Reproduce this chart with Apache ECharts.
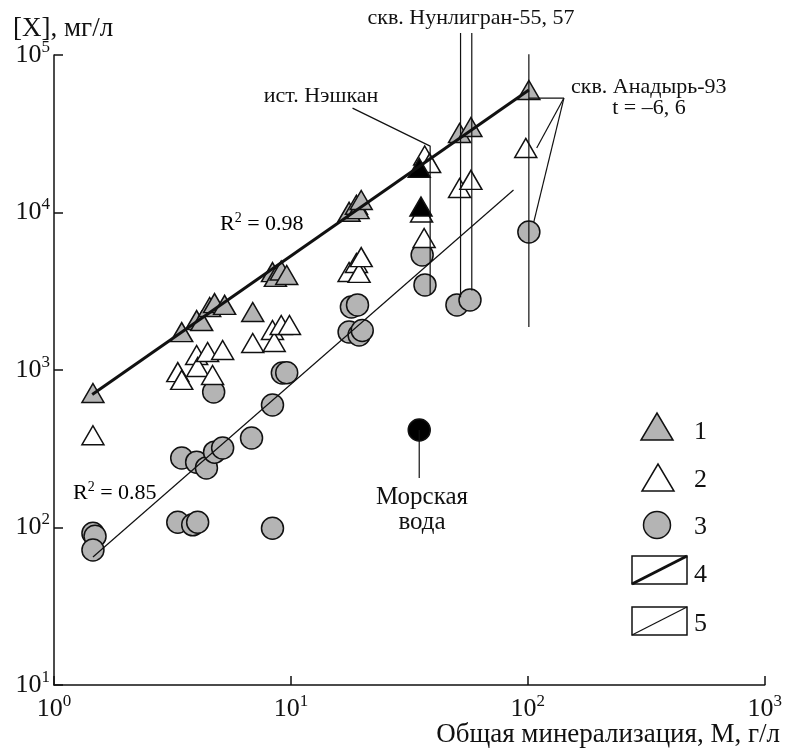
<!DOCTYPE html>
<html>
<head>
    <meta charset="utf-8">
    <title>ECharts</title>
    <script src="https://cdn.jsdelivr.net/npm/echarts@6/dist/echarts.min.js"></script>
</head>
<body style="margin:0;background:#fff">
    <div id="main" style="width:785px;height:748px;"></div>
    <script type="text/javascript">
        var myChart = echarts.init(document.getElementById('main'));

// [M, X] pairs
var grayTriangles = [
    [1.46, 714], [3.46, 1740], [4.0, 2075], [4.2, 2045], [4.54, 2510],
    [4.76, 2660], [5.25, 2590], [6.9, 2335], [8.36, 4185], [8.6, 3900],
    [9.1, 4280], [9.6, 4010], [17.6, 10100], [18.9, 11200], [19.2, 10500],
    [19.8, 12000], [51.5, 32000], [57.5, 34900], [101, 60000]
];
var hollowTriangles = [
    [1.46, 385], [3.33, 970], [3.46, 865], [4.0, 1245], [4.04, 1045],
    [4.45, 1300], [4.67, 930], [5.15, 1340], [6.9, 1484], [8.36, 1795],
    [8.5, 1505], [9.1, 1930], [9.86, 1930], [17.6, 4190], [18.9, 4775],
    [19.4, 4140], [19.8, 5210], [35.6, 10000], [36.5, 6890], [36.7, 23000],
    [38.5, 20600], [51.5, 14300], [57.5, 16100], [98, 25700]
];
var blackTriangles = [[34.8, 19200], [35.4, 10900]];
var circles = [
    [1.46, 92], [1.49, 88], [1.46, 72], [3.33, 108], [3.85, 104], [4.04, 108],
    [3.46, 276], [4.0, 260], [4.4, 239], [4.76, 301], [5.15, 320], [6.82, 370],
    [4.72, 725], [8.36, 600], [8.36, 99], [9.2, 957], [9.6, 960],
    [17.6, 1742], [19.4, 1668], [20, 1780], [18, 2513], [19.1, 2590],
    [35.8, 5370], [36.8, 3470], [50.2, 2590], [57, 2780], [101, 7520]
];
var seaWater = [[34.8, 416]];
var fitStrong = [[1.45, 700], [101, 60000]];   // 4, R2 = 0.98
var fitWeak = [[1.46, 65], [87, 13900]];       // 5, R2 = 0.85
var leaders = [
    [[52, 138000], [52, 2900]],
    [[58, 138000], [58, 3200]],
    [[101, 101000], [101, 1875]],
    [[101, 53300], [142, 53300]],
    [[142, 53300], [109, 25700]],
    [[142, 53300], [106, 8710]],
    [[18.2, 46000], [38.7, 26400], [38.7, 2990]],
    [[34.8, 416], [34.8, 206]]
];
var legendNames = ['1', '2', '3', '4', '5'];

var serif = '"Liberation Serif", "Times New Roman", serif';
var ink = '#111';
var gray = '#b4b4b4';

function powLabel(v) {
    return '{b|10}{s|' + Math.round(Math.log10(v)) + '}';
}
var powRich = {
    b: { fontSize: 26, fontFamily: serif, color: ink, lineHeight: 32 },
    s: { fontSize: 17, fontFamily: serif, color: ink, verticalAlign: 'top', lineHeight: 16 }
};

function txt(x, y, text, size, align) {
    return {
        type: 'text', x: x, y: y, z: 10,
        style: {
            text: text, font: size + 'px ' + serif, fill: ink,
            textAlign: align || 'center', align: align || 'center',
            textVerticalAlign: 'middle', verticalAlign: 'middle'
        }
    };
}
function rtxt(x, y, r2) {
    return {
        type: 'text', x: x, y: y, z: 10,
        style: {
            text: '{a|R}{s|2}{a| = ' + r2 + '}',
            rich: {
                a: { fontSize: 22, fontFamily: serif, color: ink, lineHeight: 26 },
                s: { fontSize: 14, fontFamily: serif, color: ink, verticalAlign: 'top', lineHeight: 13 }
            },
            textVerticalAlign: 'middle', verticalAlign: 'middle'
        }
    };
}

var legendGraphics = [
    { type: 'polygon', shape: { points: [[641, 440], [673, 440], [657, 413]] },
      style: { fill: gray, stroke: ink, lineWidth: 1.5 } },
    { type: 'polygon', shape: { points: [[642, 491], [674, 491], [658, 464]] },
      style: { fill: '#fff', stroke: ink, lineWidth: 1.5 } },
    { type: 'circle', shape: { cx: 657, cy: 525, r: 13.5 },
      style: { fill: gray, stroke: ink, lineWidth: 1.5 } },
    { type: 'rect', shape: { x: 632, y: 556, width: 55, height: 28 },
      style: { fill: '#fff', stroke: ink, lineWidth: 1.5 } },
    { type: 'line', shape: { x1: 632, y1: 584, x2: 687, y2: 556 },
      style: { stroke: ink, lineWidth: 3 } },
    { type: 'rect', shape: { x: 632, y: 607, width: 55, height: 28 },
      style: { fill: '#fff', stroke: ink, lineWidth: 1.5 } },
    { type: 'line', shape: { x1: 632, y1: 635, x2: 687, y2: 607 },
      style: { stroke: ink, lineWidth: 1.2 } }
];
var legendY = [432, 480, 527, 575, 624];
legendNames.forEach(function (n, i) {
    legendGraphics.push(txt(694, legendY[i], n, 26, 'left'));
});

function scatter(data, symbol, size, fill) {
    return {
        type: 'scatter', data: data, symbol: symbol, symbolSize: size, z: 2,
        itemStyle: { color: fill, borderColor: ink, borderWidth: 1.5, opacity: 1 },
        emphasis: { disabled: true }
    };
}
function line(data, width, z) {
    return {
        type: 'line', data: data, symbol: 'none', z: z, clip: false, silent: true,
        lineStyle: { color: ink, width: width }
    };
}

var series = [
    scatter(circles, 'circle', 22, gray),
    scatter(hollowTriangles, 'triangle', [22, 19], '#fff'),
    scatter(grayTriangles, 'triangle', [22, 19], gray),
    scatter(blackTriangles, 'triangle', [22, 19], '#000'),
    scatter(seaWater, 'circle', 22, '#000'),
    line(fitStrong, 3, 4),
    line(fitWeak, 1.2, 4)
];
leaders.forEach(function (l) {
    series.push(line(l, 1.2, 5));
});

option = {
    animation: false,
    backgroundColor: '#fff',
    grid: { left: 54, right: 19, top: 55, bottom: 63 },
    xAxis: {
        type: 'log', logBase: 10, min: 1, max: 1000, interval: 1,
        axisLine: { lineStyle: { color: ink, width: 1.5 } },
        axisTick: { inside: true, length: 9, lineStyle: { color: ink, width: 1.5 } },
        splitLine: { show: false },
        minorTick: { show: false },
        axisLabel: { formatter: powLabel, rich: powRich, margin: 8, showMaxLabel: true, showMinLabel: true }
    },
    yAxis: {
        type: 'log', logBase: 10, min: 10, max: 100000, interval: 1,
        axisLine: { lineStyle: { color: ink, width: 1.5 } },
        axisTick: { inside: true, length: 9, lineStyle: { color: ink, width: 1.5 } },
        splitLine: { show: false },
        minorTick: { show: false },
        axisLabel: { formatter: powLabel, rich: powRich, margin: 4, showMaxLabel: true, showMinLabel: true }
    },
    graphic: [
        txt(13, 29, '[X], мг/л', 27, 'left'),
        txt(780, 735, 'Общая минерализация, М, г/л', 27, 'right'),
        txt(471, 18, 'скв. Нунлигран-55, 57', 22),
        txt(321, 96, 'ист. Нэшкан', 22),
        txt(571, 87, 'скв. Анадырь-93', 22, 'left'),
        txt(649, 108, 't = –6, 6', 22),
        txt(422, 497, 'Морская', 25),
        txt(422, 522, 'вода', 25),
        rtxt(220, 224, '0.98'),
        rtxt(73, 493, '0.85')
    ].concat(legendGraphics),
    series: series
};

        myChart.setOption(option);
    </script>
</body>
</html>
